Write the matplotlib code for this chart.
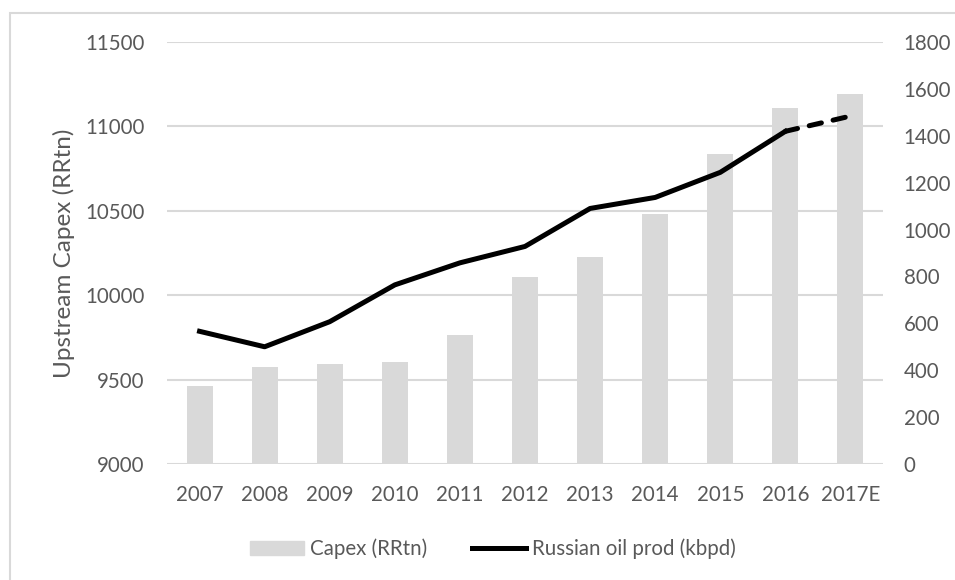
import matplotlib.pyplot as plt
from matplotlib.patches import Patch, Rectangle
from matplotlib.lines import Line2D

years = ['2007', '2008', '2009', '2010', '2011', '2012', '2013', '2014', '2015', '2016', '2017E']
capex = [9463, 9576, 9594, 9606, 9766, 10109, 10227, 10482, 10837, 11110, 11192]
oil_prod = [566, 500, 607, 764, 858, 928, 1090, 1137, 1244, 1419, 1484]

grey_text = '#595959'
plt.rcParams['font.family'] = ['Lato', 'DejaVu Sans']
plt.rcParams['font.size'] = 14.8

fig = plt.figure(figsize=(9.55, 5.8), dpi=100)
fig.patches.append(Rectangle((10 / 955, -0.1), 1.2, 1 - 13 / 580 + 0.1,
                             transform=fig.transFigure, fill=False,
                             edgecolor='#d9d9d9', linewidth=1.5))

ax = fig.add_axes([167 / 955, 1 - 464 / 580, (883 - 167) / 955, (464 - 42) / 580])
x = list(range(len(years)))
ax.bar(x, capex, width=0.4, color='#d9d9d9', zorder=2)
ax.set_ylim(9000, 11500)
ax.set_yticks([9000, 9500, 10000, 10500, 11000, 11500])
ax.set_xlim(-0.5, len(years) - 0.5)
ax.set_xticks(x)
ax.set_xticklabels(years)
ax.grid(axis='y', color='#d9d9d9', linewidth=1.5, zorder=0)
ax.set_axisbelow(True)
for s in ax.spines.values():
    s.set_visible(False)
ax.tick_params(length=0, colors=grey_text, pad=16)
ax.tick_params(axis='x', pad=15)
ax.set_ylabel('Upstream Capex (RRtn)', color=grey_text, fontsize=17.5)
ax.yaxis.set_label_coords(-0.129, 0.499)

ax2 = ax.twinx()
ax2.plot(x[:-1], oil_prod[:-1], color='black', linewidth=3.6, solid_joinstyle='round')
ax2.plot(x[-2:], oil_prod[-2:], color='black', linewidth=3.6, linestyle=(0, (2.5, 2.4)),
         dash_capstyle='round')
ax2.set_ylim(0, 1800)
ax2.set_yticks(range(0, 1801, 200))
for s in ax2.spines.values():
    s.set_visible(False)
ax2.tick_params(length=0, colors=grey_text, pad=15)

handles = [Patch(color='#d9d9d9'), Line2D([], [], color='black', linewidth=3.6)]
fig.legend(handles, ['Capex (RRtn)', 'Russian oil prod (kbpd)'], loc='center',
           bbox_to_anchor=(0.516, 1 - 549 / 580), ncol=2, frameon=False,
           handlelength=2.6, handletextpad=0.3, columnspacing=2.2,
           labelcolor=grey_text)

fig.savefig('out.png', dpi=100)
